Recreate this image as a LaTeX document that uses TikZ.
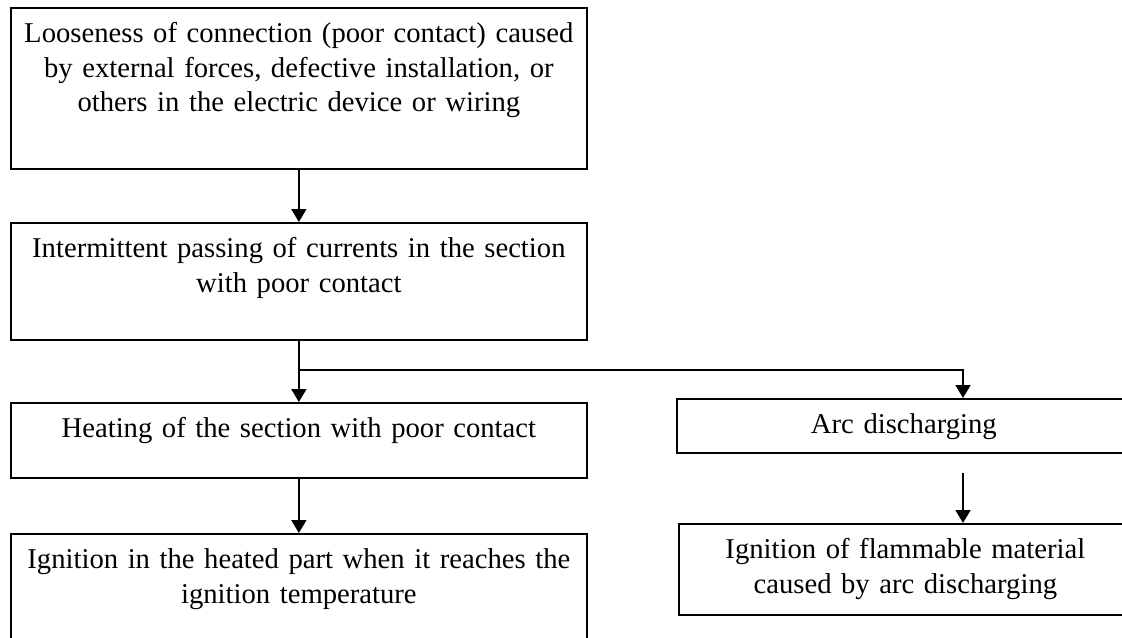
\documentclass[tikz,border=0pt]{standalone}
\usepackage{fontspec}
\setmainfont{Liberation Serif}
\usetikzlibrary{arrows.meta}
\tikzset{
    stepbox/.style={draw, rectangle, anchor=north west, inner sep=0, line width=1.3pt},
    steptext/.style={anchor=north, align=center, text width=#1, inner sep=0, yshift=-8.3pt,
        font=\fontsize{21.5}{26}\selectfont},
    flow/.style={line width=1.3pt, -{Triangle[length=9.75pt,width=11.25pt]}},
    wire/.style={line width=1.3pt}
}

\begin{document}
\begin{tikzpicture}[x=0.75pt, y=-0.75pt]
    \useasboundingbox (0,0) rectangle (1122,637);

    \node[stepbox, minimum width=432pt, minimum height=120.75pt] (loose) at (10,7) {};
    \node[steptext=432pt] (loosetxt) at (loose.north) {\strut Looseness of connection (poor contact) caused\\
        by external forces, defective installation, or\\ others in the electric device or wiring};

    \node[stepbox, minimum width=432pt, minimum height=87.75pt] (pass) at (10,222) {};
    \node[steptext=432pt] (passtxt) at (pass.north) {\strut Intermittent passing of currents in the section\\ with poor contact};

    \node[stepbox, minimum width=432pt, minimum height=56.25pt] (heat) at (10,402) {};
    \node[steptext=432pt] (heattxt) at (heat.north) {\strut Heating of the section with poor contact};

    \node[stepbox, minimum width=432pt, minimum height=97.5pt] (ignheat) at (10,533) {};
    \node[steptext=432pt] (ignheattxt) at (ignheat.north) {\strut Ignition in the heated part when it reaches the\\ ignition temperature};

    \node[stepbox, minimum width=340.5pt, minimum height=40.5pt] (arc) at (676,398) {};
    \node[steptext=340.5pt] (arctxt) at (arc.north) {\strut Arc discharging};

    \node[stepbox, minimum width=339.75pt, minimum height=68.25pt] (ignarc) at (678,523) {};
    \node[steptext=339.75pt] (ignarctxt) at (ignarc.north) {\strut Ignition of flammable material\\ caused by arc discharging};

    \coordinate (arcin) at (963,398);
    \coordinate (arcout) at (963,473);

    \draw[flow] (loose.south) -- (pass.north);
    \draw[wire] (pass.south) -- ++(0,29) coordinate (split);
    \draw[flow] (split) -- (split |- heat.north);
    \draw[flow] (split) -| (arcin);
    \draw[flow] (heat.south) -- (ignheat.north);
    \draw[flow] (arcout) -- (arcout |- ignarc.north);
\end{tikzpicture}
\end{document}
